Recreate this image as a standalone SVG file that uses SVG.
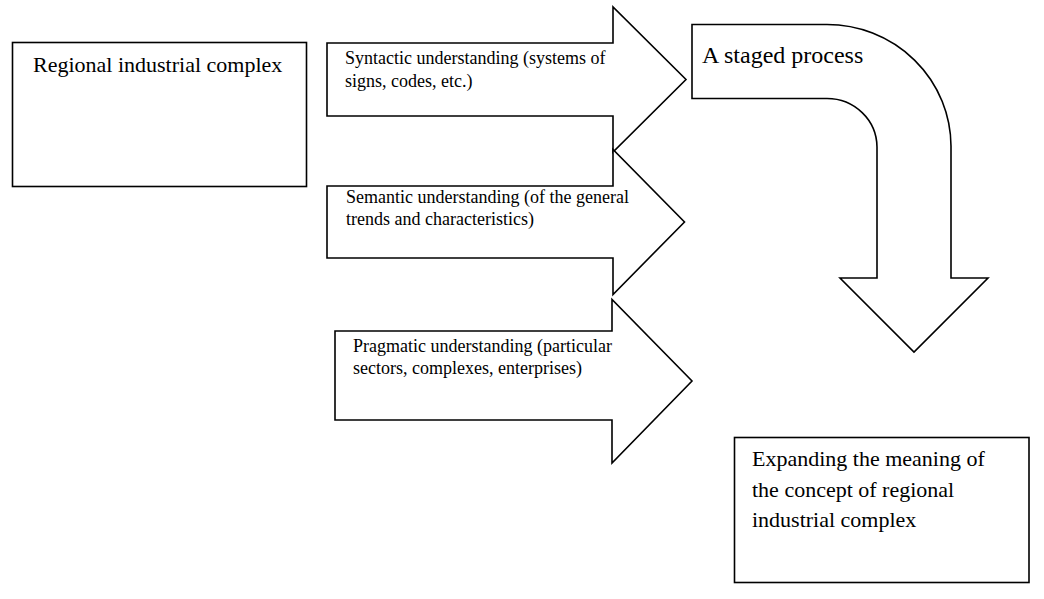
<svg xmlns="http://www.w3.org/2000/svg" width="1044" height="599" viewBox="0 0 1044 599">
<style>
.shape{fill:#fff;stroke:#000;stroke-width:1.6;stroke-linejoin:miter}
.t{font-family:"Liberation Serif","Times New Roman",serif;fill:#000}
.big{font-size:22px}
.small{font-size:18px}
</style>
<rect width="1044" height="599" fill="#fff"/>
<g id="node-regional">
<rect class="shape" x="12.5" y="42.5" width="294" height="144"/>
<text class="t big" x="33" y="72">Regional industrial complex</text>
</g>
<g id="connectors">
<g id="arrow-syntactic">
<path class="shape" d="M327,43 L613,43 L613,7 L686,79.5 L613,152 L613,116 L327,116 Z"/>
<text class="t small" x="345" y="64">Syntactic understanding (systems of</text>
<text class="t small" x="345" y="87">signs, codes, etc.)</text>
</g>
<g id="arrow-semantic">
<path class="shape" d="M327,186 L613,186 L613,149.5 L684.5,222 L613,294.5 L613,258 L327,258 Z"/>
<text class="t small" x="346" y="203">Semantic understanding (of the general</text>
<text class="t small" x="346" y="225">trends and characteristics)</text>
</g>
<g id="arrow-pragmatic">
<path class="shape" d="M335,331 L612,331 L612,299.5 L692,381 L612,463 L612,420 L335,420 Z"/>
<text class="t small" x="353" y="352">Pragmatic understanding (particular</text>
<text class="t small" x="353" y="374">sectors, complexes, enterprises)</text>
</g>
<g id="arrow-staged">
<path class="shape" d="M692,24.5 L827,24.5 A124,122 0 0 1 951,146 L951,278 L988,278 L914,352 L840,278 L877,278 L877,147 A50,49 0 0 0 827,98.5 L692,98.5 Z"/>
<text class="t" font-size="24" x="702" y="63">A staged process</text>
</g>
</g>
<g id="node-expanding">
<rect class="shape" x="734.5" y="437.5" width="294.5" height="145"/>
<text class="t big" x="752" y="466">Expanding the meaning of</text>
<text class="t big" x="752" y="497">the concept of regional</text>
<text class="t big" x="752" y="527">industrial complex</text>
</g>
</svg>
